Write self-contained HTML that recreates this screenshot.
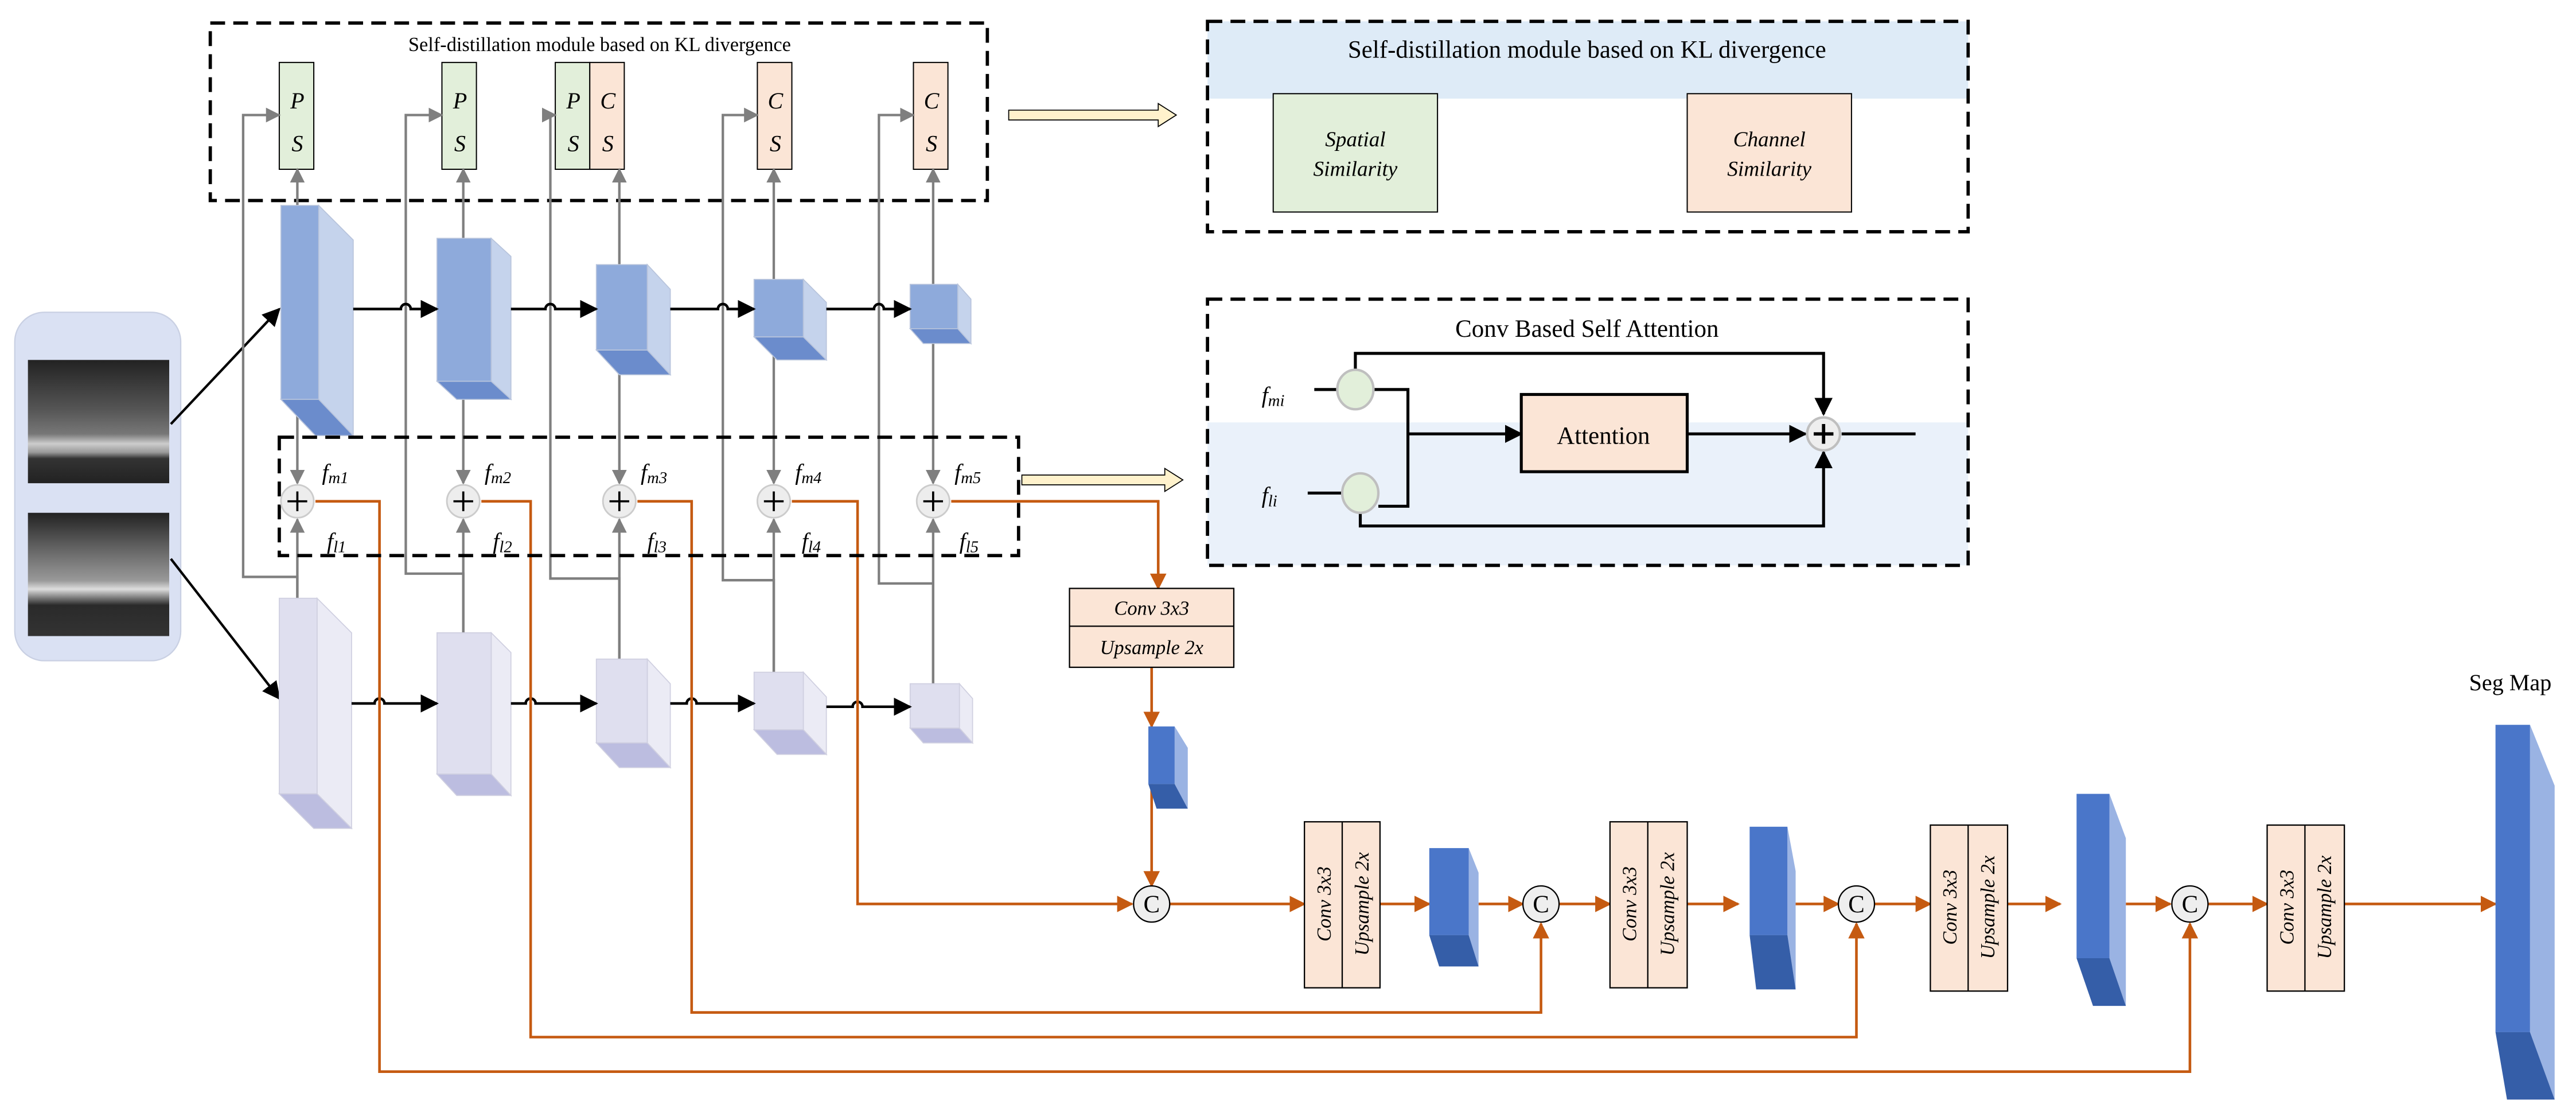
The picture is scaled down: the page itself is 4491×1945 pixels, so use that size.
<!DOCTYPE html>
<html><head><meta charset="utf-8"><style>html,body{margin:0;padding:0;background:#fff}svg{display:block}</style></head>
<body>
<svg width="4491" height="1945" viewBox="0 0 1568 679" preserveAspectRatio="none" xmlns="http://www.w3.org/2000/svg" font-family="Liberation Serif, serif">
<defs>
<marker id="abk" viewBox="0 0 10 10" refX="9" refY="5" markerWidth="11" markerHeight="11" orient="auto" markerUnits="userSpaceOnUse"><path d="M0,0L10,5L0,10z" fill="#000"/></marker>
<marker id="ag" viewBox="0 0 10 10" refX="9" refY="5" markerWidth="9" markerHeight="9" orient="auto" markerUnits="userSpaceOnUse"><path d="M0,0L10,5L0,10z" fill="#7f7f7f"/></marker>
<marker id="ao" viewBox="0 0 10 10" refX="9" refY="5" markerWidth="10" markerHeight="10" orient="auto" markerUnits="userSpaceOnUse"><path d="M0,0L10,5L0,10z" fill="#c55a11"/></marker>
<linearGradient id="im1" x1="0" y1="0" x2="0" y2="1">
<stop offset="0" stop-color="#222"/><stop offset="0.4" stop-color="#555"/><stop offset="0.6" stop-color="#777"/><stop offset="0.68" stop-color="#ccc"/><stop offset="0.75" stop-color="#999"/><stop offset="0.8" stop-color="#333"/><stop offset="1" stop-color="#222"/></linearGradient>
<linearGradient id="im2" x1="0" y1="0" x2="0" y2="1">
<stop offset="0" stop-color="#222"/><stop offset="0.3" stop-color="#666"/><stop offset="0.55" stop-color="#999"/><stop offset="0.62" stop-color="#ddd"/><stop offset="0.68" stop-color="#888"/><stop offset="0.75" stop-color="#2a2a2a"/><stop offset="1" stop-color="#333"/></linearGradient>
</defs>

<rect x="9" y="190" width="101" height="212" rx="18" fill="#dae1f3" stroke="#c9d0e3" stroke-width="0.8"/>
<rect x="17" y="219" width="86" height="75" fill="url(#im1)"/>
<rect x="17" y="312" width="86" height="75" fill="url(#im2)"/>
<line x1="104" y1="258" x2="170" y2="188" stroke="#000" stroke-width="1.5" marker-end="url(#abk)"/>
<line x1="104" y1="340" x2="170" y2="425" stroke="#000" stroke-width="1.5" marker-end="url(#abk)"/>

<rect x="128" y="14" width="473" height="108" fill="none" stroke="#000" stroke-width="2" stroke-dasharray="9,5"/>
<text x="365" y="31" font-size="12" text-anchor="middle">Self-distillation module based on KL divergence</text>
<g stroke="#000" stroke-width="0.7">
<rect x="170" y="38" width="21" height="65" fill="#e2efda"/>
<rect x="269" y="38" width="21" height="65" fill="#e2efda"/>
<rect x="338" y="38" width="21" height="65" fill="#e2efda"/>
<rect x="359" y="38" width="21" height="65" fill="#fbe5d6"/>
<rect x="461" y="38" width="21" height="65" fill="#fbe5d6"/>
<rect x="556" y="38" width="21" height="65" fill="#fbe5d6"/>
</g>
<g font-size="14" font-style="italic" text-anchor="middle">
<text x="181" y="66">P</text><text x="181" y="92">S</text>
<text x="280" y="66">P</text><text x="280" y="92">S</text>
<text x="349" y="66">P</text><text x="349" y="92">S</text>
<text x="370" y="66">C</text><text x="370" y="92">S</text>
<text x="472" y="66">C</text><text x="472" y="92">S</text>
<text x="567" y="66">C</text><text x="567" y="92">S</text>
</g>

<g stroke="#7f7f7f" stroke-width="1.5" fill="none">
<path d="M181,364 V351 H148 V70 H170" marker-end="url(#ag)"/>
<path d="M282,385 V349 H247 V70 H269" marker-end="url(#ag)"/>
<path d="M377,401 V352 H335 V70 H338" marker-end="url(#ag)"/>
<path d="M471,409 V353 H440 V70 H461" marker-end="url(#ag)"/>
<path d="M568,416 V355 H535 V70 H556" marker-end="url(#ag)"/>
<path d="M181,125 V103" marker-end="url(#ag)"/>
<path d="M282,145 V103" marker-end="url(#ag)"/>
<path d="M377,161 V103" marker-end="url(#ag)"/>
<path d="M471,170 V103" marker-end="url(#ag)"/>
<path d="M568,173 V103" marker-end="url(#ag)"/>
<path d="M181,243 V294" marker-end="url(#ag)"/>
<path d="M282,232 V294" marker-end="url(#ag)"/>
<path d="M377,213 V294" marker-end="url(#ag)"/>
<path d="M471,205 V294" marker-end="url(#ag)"/>
<path d="M568,200 V294" marker-end="url(#ag)"/>
<path d="M181,364 V316" marker-end="url(#ag)"/>
<path d="M282,385 V316" marker-end="url(#ag)"/>
<path d="M377,401 V316" marker-end="url(#ag)"/>
<path d="M471,409 V316" marker-end="url(#ag)"/>
<path d="M568,416 V316" marker-end="url(#ag)"/>
</g>

<g stroke="#b8c4dc" stroke-width="0.6">
<polygon points="194,125 215,146 215,265 194,243" fill="#c5d3ec"/><rect x="171" y="125" width="23" height="118" fill="#8eaadb"/><polygon points="171,243 194,243 215,265 192,265" fill="#6b8ccc"/>
<polygon points="299,145 311,156 311,243 299,232" fill="#c5d3ec"/><rect x="266" y="145" width="33" height="87" fill="#8eaadb"/><polygon points="266,232 299,232 311,243 278,243" fill="#6b8ccc"/>
<polygon points="394,161 408,176 408,228 394,213" fill="#c5d3ec"/><rect x="363" y="161" width="31" height="52" fill="#8eaadb"/><polygon points="363,213 394,213 408,228 377,228" fill="#6b8ccc"/>
<polygon points="489,170 503,184 503,219 489,205" fill="#c5d3ec"/><rect x="459" y="170" width="30" height="35" fill="#8eaadb"/><polygon points="459,205 489,205 503,219 473,219" fill="#6b8ccc"/>
<polygon points="583,173 591,182 591,209 583,200" fill="#c5d3ec"/><rect x="554" y="173" width="29" height="27" fill="#8eaadb"/><polygon points="554,200 583,200 591,209 562,209" fill="#6b8ccc"/>
</g>
<g stroke="#cfcfe0" stroke-width="0.6">
<polygon points="193,364 214,385 214,504 193,483" fill="#ebebf5"/><rect x="170" y="364" width="23" height="119" fill="#dfdfef"/><polygon points="170,483 193,483 214,504 191,504" fill="#bcbde0"/>
<polygon points="299,385 311,397 311,484 299,471" fill="#ebebf5"/><rect x="266" y="385" width="33" height="86" fill="#dfdfef"/><polygon points="266,471 299,471 311,484 278,484" fill="#bcbde0"/>
<polygon points="394,401 408,416 408,467 394,452" fill="#ebebf5"/><rect x="363" y="401" width="31" height="51" fill="#dfdfef"/><polygon points="363,452 394,452 408,467 377,467" fill="#bcbde0"/>
<polygon points="489,409 503,424 503,459 489,444" fill="#ebebf5"/><rect x="459" y="409" width="30" height="35" fill="#dfdfef"/><polygon points="459,444 489,444 503,459 473,459" fill="#bcbde0"/>
<polygon points="584,416 592,425 592,452 584,443" fill="#ebebf5"/><rect x="554" y="416" width="30" height="27" fill="#dfdfef"/><polygon points="554,443 584,443 592,452 562,452" fill="#bcbde0"/>
</g>

<g stroke="#000" stroke-width="1.6" fill="none">
<path d="M215,188 H244 A3,3 0 0 1 250,188 H266" marker-end="url(#abk)"/>
<path d="M311,188 H332 A3,3 0 0 1 338,188 H363" marker-end="url(#abk)"/>
<path d="M408,188 H437 A3,3 0 0 1 443,188 H459" marker-end="url(#abk)"/>
<path d="M503,188 H532 A3,3 0 0 1 538,188 H554" marker-end="url(#abk)"/>
<path d="M214,428 H228 A3,3 0 0 1 234,428 H266" marker-end="url(#abk)"/>
<path d="M311,428 H320 A3,3 0 0 1 326,428 H363" marker-end="url(#abk)"/>
<path d="M408,428 H418 A3,3 0 0 1 424,428 H459" marker-end="url(#abk)"/>
<path d="M503,430 H519 A3,3 0 0 1 525,430 H554" marker-end="url(#abk)"/>
</g>

<g stroke="#c55a11" stroke-width="1.6" fill="none">
<path d="M192,305 H231 V652 H1333 V562" marker-end="url(#ao)"/>
<path d="M293,305 H323 V631 H1130 V562" marker-end="url(#ao)"/>
<path d="M388,305 H421 V616 H938 V562" marker-end="url(#ao)"/>
<path d="M482,305 H522 V550 H689" marker-end="url(#ao)"/>
<path d="M579,305 H705 V358" marker-end="url(#ao)"/>
<path d="M701,406 V442" marker-end="url(#ao)"/>
<path d="M701,477 V539" marker-end="url(#ao)"/>
<path d="M712,550 H794" marker-end="url(#ao)"/>
<path d="M840,550 H870" marker-end="url(#ao)"/>
<path d="M900,550 H927" marker-end="url(#ao)"/>
<path d="M949,550 H980" marker-end="url(#ao)"/>
<path d="M1027,550 H1058" marker-end="url(#ao)"/>
<path d="M1093,550 H1119" marker-end="url(#ao)"/>
<path d="M1141,550 H1175" marker-end="url(#ao)"/>
<path d="M1222,550 H1254" marker-end="url(#ao)"/>
<path d="M1294,550 H1321" marker-end="url(#ao)"/>
<path d="M1344,550 H1380" marker-end="url(#ao)"/>
<path d="M1427,550 H1519" marker-end="url(#ao)"/>
</g>

<rect x="170" y="266" width="450" height="72" fill="none" stroke="#000" stroke-width="2" stroke-dasharray="9,5"/>
<g stroke="#cccccc" stroke-width="1" fill="#ededed">
<circle cx="181" cy="305" r="10"/><circle cx="282" cy="305" r="10"/><circle cx="377" cy="305" r="10"/><circle cx="471" cy="305" r="10"/><circle cx="568" cy="305" r="10"/>
</g>
<g stroke="#000" stroke-width="1.3">
<path d="M175,305h12M181,299v12"/><path d="M276,305h12M282,299v12"/><path d="M371,305h12M377,299v12"/><path d="M465,305h12M471,299v12"/><path d="M562,305h12M568,299v12"/>
</g>
<g font-size="14" font-style="italic">
<text x="196" y="292">f<tspan font-size="10" dy="2">m1</tspan></text>
<text x="295" y="292">f<tspan font-size="10" dy="2">m2</tspan></text>
<text x="390" y="292">f<tspan font-size="10" dy="2">m3</tspan></text>
<text x="484" y="292">f<tspan font-size="10" dy="2">m4</tspan></text>
<text x="581" y="292">f<tspan font-size="10" dy="2">m5</tspan></text>
<text x="199" y="334">f<tspan font-size="10" dy="2">l1</tspan></text>
<text x="300" y="334">f<tspan font-size="10" dy="2">l2</tspan></text>
<text x="394" y="334">f<tspan font-size="10" dy="2">l3</tspan></text>
<text x="488" y="334">f<tspan font-size="10" dy="2">l4</tspan></text>
<text x="584" y="334">f<tspan font-size="10" dy="2">l5</tspan></text>
</g>

<path d="M614,67 H705 V63 L716,70 L705,77 V73 H614 Z" fill="#fff2cc" stroke="#000" stroke-width="0.6"/>
<path d="M622,289 H709 V285 L720,292 L709,299 V295 H622 Z" fill="#fff2cc" stroke="#000" stroke-width="0.6"/>

<rect x="735" y="13" width="463" height="47" fill="#deebf7"/>
<rect x="735" y="13" width="463" height="128" fill="none" stroke="#000" stroke-width="2" stroke-dasharray="9,5"/>
<text x="966" y="35" font-size="15" text-anchor="middle">Self-distillation module based on KL divergence</text>
<rect x="775" y="57" width="100" height="72" fill="#e2efda" stroke="#000" stroke-width="0.7"/>
<rect x="1027" y="57" width="100" height="72" fill="#fbe5d6" stroke="#000" stroke-width="0.7"/>
<g font-size="13" font-style="italic" text-anchor="middle">
<text x="825" y="89">Spatial</text><text x="825" y="107">Similarity</text>
<text x="1077" y="89">Channel</text><text x="1077" y="107">Similarity</text>
</g>

<rect x="735" y="257" width="463" height="87" fill="#eaf1fa"/>
<rect x="735" y="182" width="463" height="162" fill="none" stroke="#000" stroke-width="2" stroke-dasharray="9,5"/>
<text x="966" y="205" font-size="15" text-anchor="middle">Conv Based Self Attention</text>
<g stroke="#000" stroke-width="1.8" fill="none">
<path d="M800,237 H814"/><path d="M796,300 H817"/>
<path d="M825,226 V215 H1110 V252" marker-end="url(#abk)"/>
<path d="M836,237 H857 V308 H839"/>
<path d="M857,264 H926" marker-end="url(#abk)"/>
<path d="M1027,264 H1099" marker-end="url(#abk)"/>
<path d="M828,312 V320 H1110 V275" marker-end="url(#abk)"/>
<path d="M1121,264 H1166"/>
</g>
<ellipse cx="825" cy="237" rx="11" ry="12" fill="#e2efda" stroke="#bfbfbf" stroke-width="1.5"/>
<ellipse cx="828" cy="300" rx="11" ry="12" fill="#e2efda" stroke="#bfbfbf" stroke-width="1.5"/>
<rect x="926" y="240" width="101" height="47" fill="#fbe5d6" stroke="#000" stroke-width="1.8"/>
<text x="976" y="270" font-size="15" text-anchor="middle">Attention</text>
<circle cx="1110" cy="264" r="10" fill="#eee" stroke="#bfbfbf" stroke-width="1.5"/>
<path d="M1104,264h12M1110,258v12" stroke="#000" stroke-width="2"/>
<g font-size="14" font-style="italic">
<text x="768" y="245">f<tspan font-size="10" dy="2">mi</tspan></text>
<text x="768" y="306">f<tspan font-size="10" dy="2">li</tspan></text>
</g>

<rect x="651" y="358" width="100" height="48" fill="#fbe5d6" stroke="#000" stroke-width="0.8"/>
<line x1="651" y1="381" x2="751" y2="381" stroke="#000" stroke-width="0.8"/>
<g font-size="12" font-style="italic" text-anchor="middle">
<text x="701" y="374">Conv 3x3</text><text x="701" y="398">Upsample 2x</text>
</g>

<g>
<polygon points="715,442 723,455 723,492 715,477" fill="#9ab3e3"/><rect x="699" y="442" width="16" height="35" fill="#4a76c9"/><polygon points="699,477 715,477 723,492 704,492" fill="#355ea8"/>
<polygon points="894,516 900,531 900,588 894,569" fill="#9ab3e3"/><rect x="870" y="516" width="24" height="53" fill="#4a76c9"/><polygon points="870,569 894,569 900,588 876,588" fill="#355ea8"/>
<polygon points="1088,503 1093,530 1093,602 1088,569" fill="#9ab3e3"/><rect x="1065" y="503" width="23" height="66" fill="#4a76c9"/><polygon points="1065,569 1088,569 1093,602 1069,602" fill="#355ea8"/>
<polygon points="1284,483 1294,510 1294,612 1284,583" fill="#9ab3e3"/><rect x="1264" y="483" width="20" height="100" fill="#4a76c9"/><polygon points="1264,583 1284,583 1294,612 1274,612" fill="#355ea8"/>
<polygon points="1540,441 1555,478 1555,669 1540,628" fill="#9ab3e3"/><rect x="1519" y="441" width="21" height="187" fill="#4a76c9"/><polygon points="1519,628 1540,628 1555,669 1526,669" fill="#355ea8"/>
</g>
<text x="1528" y="420" font-size="14" text-anchor="middle">Seg Map</text>

<g fill="#fbe5d6" stroke="#000" stroke-width="0.8">
<rect x="794" y="500" width="46" height="101"/><line x1="817" y1="500" x2="817" y2="601"/>
<rect x="980" y="500" width="47" height="101"/><line x1="1003" y1="500" x2="1003" y2="601"/>
<rect x="1175" y="502" width="47" height="101"/><line x1="1198" y1="502" x2="1198" y2="603"/>
<rect x="1380" y="502" width="47" height="101"/><line x1="1403" y1="502" x2="1403" y2="603"/>
</g>
<g font-size="12" font-style="italic" text-anchor="middle">
<text transform="translate(810,550) rotate(-90)">Conv 3x3</text><text transform="translate(833,550) rotate(-90)">Upsample 2x</text>
<text transform="translate(996,550) rotate(-90)">Conv 3x3</text><text transform="translate(1019,550) rotate(-90)">Upsample 2x</text>
<text transform="translate(1191,552) rotate(-90)">Conv 3x3</text><text transform="translate(1214,552) rotate(-90)">Upsample 2x</text>
<text transform="translate(1396,552) rotate(-90)">Conv 3x3</text><text transform="translate(1419,552) rotate(-90)">Upsample 2x</text>
</g>

<g fill="#eeeeee" stroke="#000" stroke-width="0.8">
<ellipse cx="701" cy="550" rx="11" ry="11"/><ellipse cx="938" cy="550" rx="11" ry="11"/><ellipse cx="1130" cy="550" rx="11" ry="11"/><ellipse cx="1333" cy="550" rx="11" ry="11"/>
</g>
<g font-size="15" text-anchor="middle">
<text x="701" y="555">C</text><text x="938" y="555">C</text><text x="1130" y="555">C</text><text x="1333" y="555">C</text>
</g>
</svg>
</body></html>
